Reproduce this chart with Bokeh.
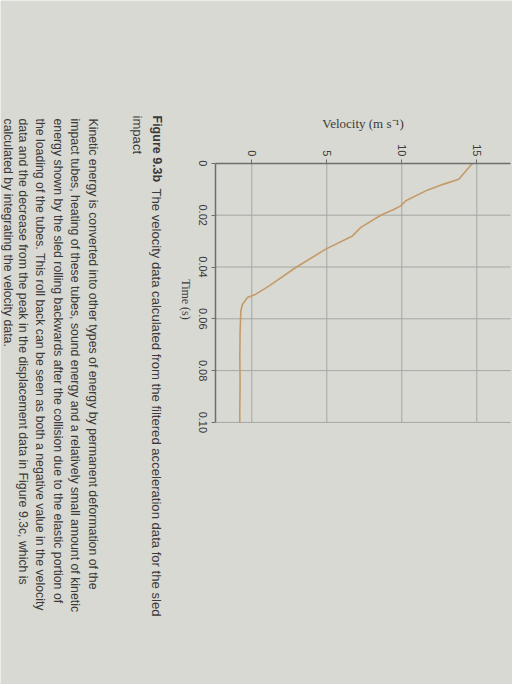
import math
from bokeh.plotting import figure
from bokeh.models import Range1d, FixedTicker, Label, LinearAxis
from bokeh.embed import file_html
from bokeh.resources import INLINE

# ---- data ----
time_s = [0, 0.0029, 0.0061, 0.008, 0.0106, 0.0144, 0.0164, 0.0177, 0.02, 0.0247,
          0.028, 0.0331, 0.0402, 0.0473, 0.0505, 0.0518, 0.0544, 0.0569, 0.065,
          0.075, 0.085, 0.095, 0.10]
velocity = [14.7, 14.27, 13.8, 12.8, 11.6, 10.27, 9.93, 9.5, 8.6, 7.27,
            6.71, 4.93, 2.93, 1.16, 0.27, -0.29, -0.62, -0.73, -0.78,
            -0.8, -0.78, -0.8, -0.8]
velocity_ticks = [0, 5, 10, 15]
time_ticks = [0, 0.02, 0.04, 0.06, 0.08, 0.10]
time_tick_labels = ["0", "0.02", "0.04", "0.06", "0.08", "0.10"]

caption_bold = "Figure 9.3b"
caption_text = "The velocity data calculated from the filtered acceleration data for the sled"
caption_line2 = "impact"
paragraph = [
    "Kinetic energy is converted into other types of energy by permanent deformation of the",
    "impact tubes, heating of these tubes, sound energy and a relatively small amount of kinetic",
    "energy shown by the sled rolling backwards after the collision due to the elastic portion of",
    "the loading of the tubes. This roll back can be seen as both a negative value in the velocity",
    "data and the decrease from the peak in the displacement data in Figure 9.3c, which is",
    "calculated by integrating the velocity data.",
]

# ---- page geometry (pixels of the 528x700 photo) ----
W, H = 512, 684
OFF = 8
V_ZERO_PX = 259.3      # x pixel of v = 0
PX_PER_V = 15.0
T_ZERO_PX = 170.9      # y pixel of t = 0
PX_PER_T = 2590.0
V_LO, V_HI = -2.4, 17.25     # extent of the chart frame
T_LO, T_HI = 0.0, 0.10
PAGE = "#d9d9d3"
INK = "#3a3a3a"
AXIS = "#6e6e6e"
GRID = "#a6a6a3"

x_start = (OFF - V_ZERO_PX) / PX_PER_V
x_end = (OFF + W - V_ZERO_PX) / PX_PER_V
t_top = (OFF - T_ZERO_PX) / PX_PER_T
t_bottom = (OFF + H - T_ZERO_PX) / PX_PER_T

p = figure(width=W, height=H, output_backend="svg", toolbar_location=None,
           x_range=Range1d(x_start, x_end), y_range=Range1d(t_bottom, t_top),
           x_axis_type=None, y_axis_type=None,
           min_border=0)
p.background_fill_color = PAGE
p.border_fill_color = PAGE
p.outline_line_color = None
p.grid.visible = False

# grid lines limited to the chart area
p.segment(x0=velocity_ticks, x1=velocity_ticks,
          y0=[T_LO] * len(velocity_ticks), y1=[T_HI] * len(velocity_ticks),
          line_color=GRID, line_width=1)
p.segment(x0=[V_LO] * len(time_ticks[1:]), x1=[V_HI] * len(time_ticks[1:]),
          y0=time_ticks[1:], y1=time_ticks[1:],
          line_color=GRID, line_width=1)

# velocity axis along t = 0 (top of the turned chart)
xa = LinearAxis(fixed_location=0.0, bounds=(V_LO, V_HI),
                ticker=FixedTicker(ticks=velocity_ticks))
xa.axis_label = "Velocity (m s\u207b\u00b9)"
xa.axis_label_text_font = "Liberation Serif"
xa.axis_label_text_font_style = "normal"
xa.axis_label_text_font_size = "13px"
xa.axis_label_text_color = INK
xa.axis_label_standoff = 10
xa.major_label_orientation = -math.pi / 2
xa.major_label_text_font = "Liberation Sans"
xa.major_label_text_font_size = "11px"
xa.major_label_text_color = INK
xa.major_label_standoff = 3
xa.minor_tick_line_color = None
xa.major_tick_in = 0
xa.major_tick_out = 4
xa.axis_line_color = AXIS
xa.axis_line_width = 1.5
xa.major_tick_line_color = AXIS
p.add_layout(xa, "above")

# time axis along the low velocity edge
ya = LinearAxis(fixed_location=V_LO, bounds=(T_LO, T_HI),
                ticker=FixedTicker(ticks=time_ticks))
ya.major_label_text_alpha = 0
ya.major_label_text_font_size = "11px"
ya.minor_tick_line_color = None
ya.major_tick_in = 0
ya.major_tick_out = 4
ya.axis_line_color = AXIS
ya.axis_line_width = 1.5
ya.major_tick_line_color = AXIS
p.add_layout(ya, "left")

p.line(velocity, time_s, line_color="#c49a68", line_width=1.6)

# ---- rotated text (the photo is turned: lines run downward) ----
def sx(px):
    return px - OFF

def sy(py):
    return H - (py - OFF)

def add_text(txt, px, py, bold=False, size="12.3px", font="Liberation Sans",
             align="left"):
    p.add_layout(Label(x=sx(px), y=sy(py), x_units="screen", y_units="screen",
                       text=txt, angle=-math.pi / 2,
                       text_align=align, text_baseline="middle",
                       text_font=font, text_font_size=size,
                       text_font_style="bold" if bold else "normal",
                       text_color=INK))

# time tick labels, centred on their ticks
for t, s in zip(time_ticks, time_tick_labels):
    p.add_layout(Label(x=sx(210), y=t, x_units="screen", y_units="data",
                       text=s, angle=-math.pi / 2,
                       text_align="center", text_baseline="middle",
                       text_font="Liberation Sans", text_font_size="11px",
                       text_color=INK))
add_text("Time (s)", 193, 307, size="12px", font="Liberation Serif", align="center")

add_text(caption_bold, 164, 123, bold=True, size="12.5px")
add_text(caption_text, 164, 196, size="13.1px")
add_text(caption_line2, 145, 123, size="13.1px")
para_x = [100, 82, 65, 47.5, 30.5, 15]
for line, px in zip(paragraph, para_x):
    add_text(line, px, 126)

open("out.html", "w").write(file_html(p, INLINE))
